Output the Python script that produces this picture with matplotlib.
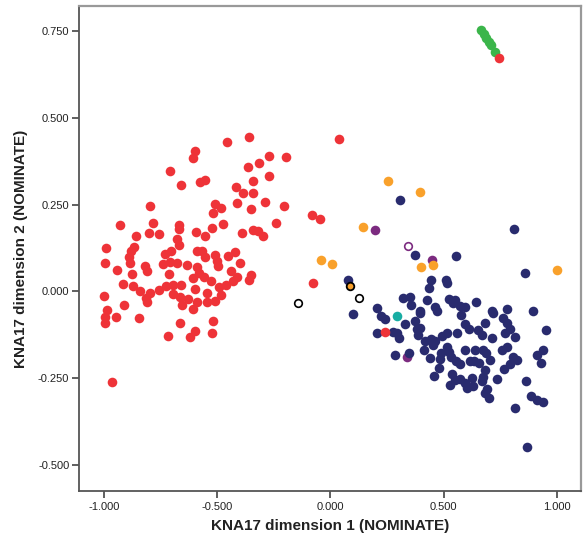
import matplotlib
matplotlib.use("Agg")
import matplotlib.pyplot as plt
from matplotlib.ticker import FixedLocator, FormatStrFormatter

plt.rcParams['font.family'] = ['Liberation Sans', 'DejaVu Sans']

# ---- data ----
red_x = [-0.361, -0.458, -0.600, -0.608, -0.270, -0.198, -0.314, -0.364, -0.709, -0.273,
         -0.553, -0.576, -0.341, -0.661, -0.417, -0.385, -0.343, -0.291, -0.413, -0.205,
         -0.509, -0.482, -0.350, -0.798, -0.520, -0.784, -0.929, -0.670, -0.670, -0.473,
         -0.523, -0.239, -0.800, -0.757, -0.594, -0.555, -0.391, -0.343, -0.320, -0.299,
         -0.859, -0.676, -0.670, -0.991, -0.868, -0.879, -0.891, -0.703, -0.729, -0.591,
         -0.569, -0.553, -0.509, -0.502, -0.453, -0.423, -0.400, -0.997, -0.885, -0.818,
         -0.809, -0.741, -0.709, -0.676, -0.635, -0.591, -0.941, -0.497, -0.441, -0.876,
         -0.714, -0.606, -0.579, -0.559, -0.529, -0.414, -0.429, -0.350, -0.361, -0.915,
         -0.871, -0.841, -0.797, -0.759, -0.726, -0.694, -0.661, -0.597, -0.547, -0.494,
         -0.461, -1.000, -0.815, -0.694, -0.664, -0.629, -0.591, -0.547, -0.509, -0.482,
         -0.809, -0.912, -0.656, -0.608, -0.985, -0.994, -0.994, -0.947, -0.845, -0.520,
         -0.664, -0.600, -0.620, -0.523, -0.716, -0.080, -0.046, -0.079, 0.038, 0.242,
         0.743, -0.965]
red_y = [0.444, 0.429, 0.405, 0.384, 0.389, 0.388, 0.369, 0.357, 0.348, 0.333,
         0.322, 0.315, 0.319, 0.306, 0.300, 0.283, 0.283, 0.257, 0.254, 0.247,
         0.253, 0.241, 0.236, 0.246, 0.225, 0.198, 0.191, 0.192, 0.181, 0.193,
         0.183, 0.196, 0.167, 0.164, 0.170, 0.158, 0.167, 0.177, 0.175, 0.160,
         0.158, 0.152, 0.134, 0.125, 0.127, 0.117, 0.100, 0.116, 0.108, 0.115,
         0.117, 0.100, 0.104, 0.088, 0.102, 0.113, 0.083, 0.081, 0.083, 0.073,
         0.060, 0.079, 0.085, 0.083, 0.075, 0.071, 0.062, 0.073, 0.060, 0.050,
         0.050, 0.038, 0.052, 0.042, 0.031, 0.042, 0.031, 0.048, 0.033, 0.022,
         0.016, 0.002, -0.004, 0.004, 0.016, 0.019, 0.018, 0.008, -0.004, 0.012,
         0.018, -0.012, -0.018, -0.007, -0.015, -0.023, -0.031, -0.031, -0.029, -0.011,
         -0.031, -0.040, -0.040, -0.050, -0.054, -0.073, -0.092, -0.073, -0.076, -0.084,
         -0.092, -0.115, -0.132, -0.121, -0.130, 0.220, 0.208, 0.023, 0.439, -0.116,
         0.673, -0.261]

navy_x = [0.306, 0.809, 0.374, 0.554, 0.857, 0.079, 0.444, 0.509, 0.513, 0.436,
          0.319, 0.351, 0.355, 0.425, 0.522, 0.551, 0.542, 0.572, 0.595, 0.642,
          0.463, 0.469, 0.098, 0.204, 0.224, 0.242, 0.395, 0.575, 0.713, 0.719,
          0.778, 0.760, 0.778, 0.792, 0.893, 0.330, 0.372, 0.381, 0.386, 0.594,
          0.613, 0.681, 0.651, 0.669, 0.951, 0.204, 0.277, 0.292, 0.301, 0.419,
          0.442, 0.463, 0.492, 0.513, 0.557, 0.513, 0.413, 0.454, 0.713, 0.769,
          0.816, 0.489, 0.483, 0.525, 0.533, 0.554, 0.595, 0.637, 0.675, 0.687,
          0.704, 0.756, 0.778, 0.940, 0.910, 0.928, 0.286, 0.345, 0.439, 0.572,
          0.616, 0.634, 0.654, 0.683, 0.672, 0.807, 0.822, 0.792, 0.766, 0.478,
          0.457, 0.536, 0.548, 0.528, 0.572, 0.595, 0.601, 0.625, 0.628, 0.669,
          0.734, 0.692, 0.701, 0.682, 0.863, 0.884, 0.910, 0.940, 0.813, 0.869,
          0.395, 0.395]
navy_y = [0.264, 0.179, 0.104, 0.102, 0.053, 0.033, 0.033, 0.033, 0.023, 0.010,
          -0.019, -0.015, -0.039, -0.025, -0.023, -0.025, -0.034, -0.042, -0.044, -0.031,
          -0.044, -0.058, -0.064, -0.047, -0.070, -0.079, -0.063, -0.067, -0.057, -0.063,
          -0.052, -0.077, -0.092, -0.109, -0.058, -0.093, -0.084, -0.109, -0.125, -0.095,
          -0.109, -0.090, -0.111, -0.125, -0.111, -0.120, -0.118, -0.121, -0.133, -0.144,
          -0.138, -0.142, -0.130, -0.121, -0.119, -0.159, -0.169, -0.154, -0.135, -0.119,
          -0.132, -0.177, -0.194, -0.174, -0.188, -0.202, -0.169, -0.169, -0.169, -0.178,
          -0.198, -0.169, -0.159, -0.169, -0.184, -0.207, -0.184, -0.177, -0.193, -0.209,
          -0.202, -0.200, -0.205, -0.226, -0.246, -0.188, -0.198, -0.209, -0.224, -0.221,
          -0.243, -0.238, -0.255, -0.270, -0.253, -0.263, -0.279, -0.249, -0.274, -0.257,
          -0.253, -0.282, -0.307, -0.292, -0.259, -0.301, -0.313, -0.319, -0.336, -0.449,
          -0.058, -0.106]

green_x = [0.663, 0.676, 0.687, 0.700, 0.709, 0.725]
green_y = [0.753, 0.741, 0.730, 0.718, 0.710, 0.690]

orange_x = [0.253, 0.395, 0.145, -0.041, 0.005, 0.401, 0.451, 0.999]
orange_y = [0.317, 0.285, 0.186, 0.090, 0.080, 0.070, 0.076, 0.062]

orange_ring_x = [0.087]
orange_ring_y = [0.016]

purple_x = [0.195, 0.449, 0.336]
purple_y = [0.177, 0.090, -0.188]

purple_open_x = [0.343]
purple_open_y = [0.131]

black_open_x = [-0.143, 0.125]
black_open_y = [-0.033, -0.019]

teal_x = [0.292]
teal_y = [-0.070]

xticks = [-1.0, -0.5, 0.0, 0.5, 1.0]
yticks = [-0.5, -0.25, 0.0, 0.25, 0.5, 0.75]
xlabel = "KNA17 dimension 1 (NOMINATE)"
ylabel = "KNA17 dimension 2 (NOMINATE)"

# ---- figure ----
fig = plt.figure(figsize=(5.84, 5.43), dpi=100)
ax = fig.add_axes([0.1353, 0.0958, 0.8596, 0.8932])

S = 48
ax.scatter(purple_x, purple_y, s=S, color="#7C2B80", linewidths=0, zorder=2)
ax.scatter(navy_x, navy_y, s=S, color="#292B6E", linewidths=0, zorder=3)
ax.scatter(red_x, red_y, s=S, color="#EE3338", linewidths=0, zorder=4)
ax.scatter(green_x, green_y, s=S, color="#3BB54A", linewidths=0, zorder=3)
ax.scatter(orange_x, orange_y, s=S, color="#F9A12B", linewidths=0, zorder=5)
ax.scatter(orange_ring_x, orange_ring_y, s=30, color="#F9A12B",
           edgecolors="black", linewidths=1.3, zorder=5)
ax.scatter(teal_x, teal_y, s=S, color="#18ADA3", linewidths=0, zorder=5)
ax.scatter(purple_open_x, purple_open_y, s=30, facecolors="white",
           edgecolors="#7C2B80", linewidths=1.2, zorder=5)
ax.scatter(black_open_x, black_open_y, s=30, facecolors="white",
           edgecolors="black", linewidths=1.2, zorder=5)

ax.set_xlim(-1.110, 1.106)
ax.set_ylim(-0.575, 0.822)

ax.xaxis.set_major_locator(FixedLocator(xticks))
ax.yaxis.set_major_locator(FixedLocator(yticks))
ax.xaxis.set_major_formatter(FormatStrFormatter("%.3f"))
ax.yaxis.set_major_formatter(FormatStrFormatter("%.3f"))

ax.tick_params(axis="both", direction="out", length=5, width=1.2,
               color="#444444", labelsize=8, labelcolor="#222222", pad=2)
ax.tick_params(axis="x", pad=3)

for side in ["left", "bottom"]:
    ax.spines[side].set_color("#555555")
    ax.spines[side].set_linewidth(1.3)
for side in ["top", "right"]:
    ax.spines[side].set_color("#999999")
    ax.spines[side].set_linewidth(1.6)

ax.set_xlabel(xlabel, fontsize=11, fontweight="bold", color="#222222", labelpad=5)
ax.set_ylabel(ylabel, fontsize=11, fontweight="bold", color="#222222", labelpad=7)

fig.savefig("out.png", dpi=100, facecolor="white")
